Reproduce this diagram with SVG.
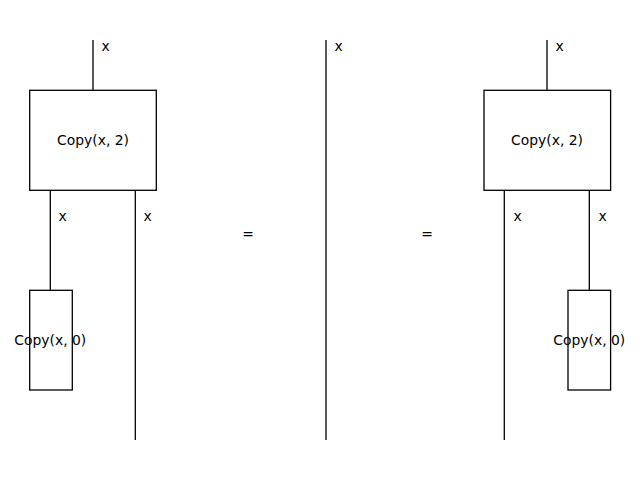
<svg xmlns="http://www.w3.org/2000/svg" width="640" height="480" viewBox="0 0 640 480">
<style>
.box{fill:#fff;stroke:#000;stroke-width:1.3}
.wire{stroke:#000;stroke-width:1.3;fill:none}
text{font-family:"DejaVu Sans",sans-serif;font-size:13.9px;fill:#000}
.c{text-anchor:middle;dominant-baseline:central}
.lbl{dominant-baseline:central}
</style>
<rect width="640" height="480" fill="#fff"/>
<g id="connectors">
<line class="wire" x1="93" y1="40" x2="93" y2="90"/>
<line class="wire" x1="50.3" y1="190" x2="50.3" y2="290"/>
<line class="wire" x1="135.3" y1="190" x2="135.3" y2="440"/>
<line class="wire" x1="326" y1="40" x2="326" y2="440"/>
<line class="wire" x1="547" y1="40" x2="547" y2="90"/>
<line class="wire" x1="504.3" y1="190" x2="504.3" y2="440"/>
<line class="wire" x1="589.3" y1="190" x2="589.3" y2="290"/>
</g>
<g id="labels">
<text class="lbl" x="101.5" y="46">x</text>
<text class="lbl" x="58.5" y="216">x</text>
<text class="lbl" x="143.5" y="216">x</text>
<text class="lbl" x="334.5" y="46">x</text>
<text class="lbl" x="555.5" y="46">x</text>
<text class="lbl" x="513.5" y="216">x</text>
<text class="lbl" x="598.5" y="216">x</text>
<text class="c" x="248" y="234">=</text>
<text class="c" x="427" y="234">=</text>
</g>
<g id="copy2-left">
<rect class="box" x="29.7" y="90.3" width="126.6" height="100"/>
<text class="c" x="93" y="139.5">Copy(x, 2)</text>
</g>
<g id="copy0-left">
<rect class="box" x="29.7" y="290.3" width="42.6" height="99.7"/>
<text class="c" x="50.3" y="339.5">Copy(x, 0)</text>
</g>
<g id="copy2-right">
<rect class="box" x="484" y="90.3" width="126.6" height="100"/>
<text class="c" x="547" y="139.5">Copy(x, 2)</text>
</g>
<g id="copy0-right">
<rect class="box" x="568" y="290.3" width="42.6" height="99.7"/>
<text class="c" x="589.3" y="339.5">Copy(x, 0)</text>
</g>
</svg>
